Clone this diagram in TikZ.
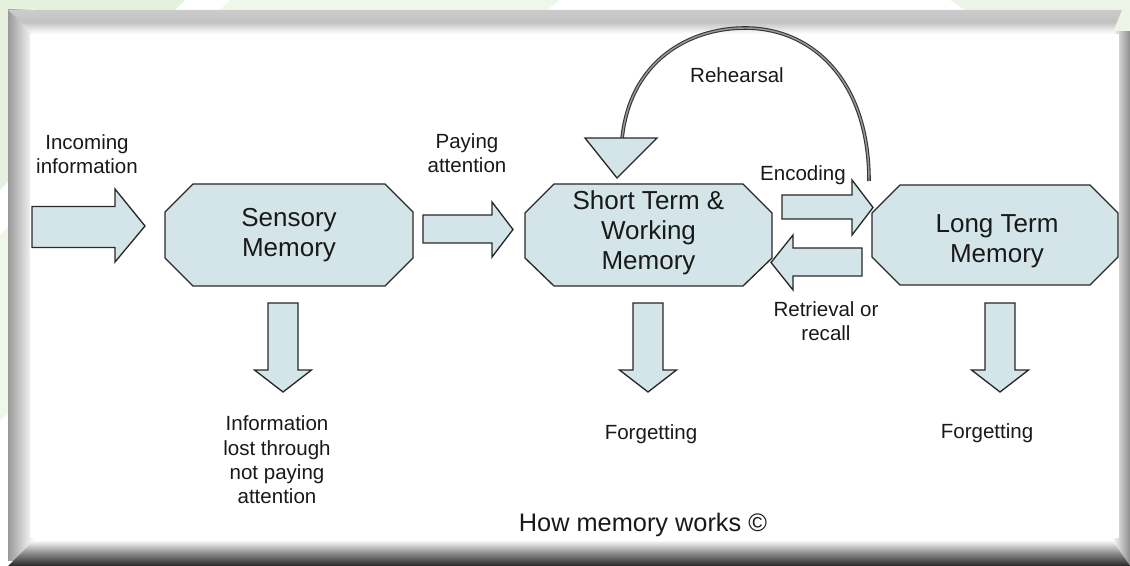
\documentclass[tikz,border=0pt]{standalone}
\usepackage{fontspec}
\setmainfont{Liberation Sans}
\definecolor{boxfill}{RGB}{212,229,233}
\definecolor{lineC}{RGB}{40,40,40}
\definecolor{txt}{RGB}{25,25,25}
\definecolor{wm}{RGB}{229,241,222}
\begin{document}
\begin{tikzpicture}[x=0.75pt,y=-0.75pt,
  blk/.style={draw=lineC, line width=1pt, fill=boxfill, line join=miter},
  memtext/.style={align=center, font=\fontsize{19.5}{22.5}\selectfont, text=txt, inner sep=0pt},
  lbl/.style={align=center, font=\fontsize{15.4}{18.2}\selectfont, text=txt, inner sep=0pt},
]
\useasboundingbox (0,0) rectangle (1130,566);
% background with faint watermark
\fill[white] (0,0) rectangle (1130,566);
\fill[wm] (0,0) -- (185,0) -- (0,190) -- cycle;
\fill[wm!60] (230,0) -- (560,0) -- (0,420) -- (0,235) -- cycle;
\fill[wm!70] (950,0) -- (1130,0) -- (1130,120) -- cycle;
% panel frame
\shade[left color=black!40, right color=white] (8,10) rectangle (34,560);
\shade[left color=white, right color=black!45] (1112,32) rectangle (1130,566);
\shade[top color=black!20, bottom color=white, middle color=black!24] (8,10) -- (1122,10) -- (1112,34) -- (34,34) -- cycle;
\fill[white] (34,34) rectangle (1112,540);
\shade[top color=white, bottom color=black!85, middle color=black!45] (8,566) -- (34,540) -- (1112,540) -- (1130,566) -- cycle;
\fill[white] (30,34) rectangle (1119,538);

% memory boxes
\path[blk] (193,184) -- (385,184) -- (413,212) -- (413,258) -- (385,286) -- (193,286) -- (165,258) -- (165,212) -- cycle;
\node[memtext] (sensory) at (289,235) {Sensory\\Memory};
\path[blk] (554,184) -- (743,184) -- (772,213) -- (772,258) -- (743,286) -- (554,286) -- (525,258) -- (525,213) -- cycle;
\node[memtext] (stm) at (648.5,233) {Short Term \&\\Working\\Memory};
\path[blk] (900,185) -- (1090,185) -- (1118,213) -- (1118,257) -- (1090,285) -- (900,285) -- (872,257) -- (872,213) -- cycle;
\node[memtext] (ltm) at (997,241) {Long Term\\Memory};

% horizontal block arrows
\path[blk] (32,206.5) -- (115,206.5) -- (115,189) -- (145,226) -- (115,262) -- (115,247.5) -- (32,247.5) -- cycle;
\path[blk] (423,215) -- (492,215) -- (492,202) -- (513,229.5) -- (492,257) -- (492,243) -- (423,243) -- cycle;
\path[blk] (782,195) -- (852,195) -- (852,180) -- (873,207.5) -- (852,235) -- (852,219) -- (782,219) -- cycle;
\path[blk] (862,248) -- (793,248) -- (793,235) -- (771,262.5) -- (793,290) -- (793,276) -- (862,276) -- cycle;

% downward block arrows
\foreach \cx in {283,648,1000}{
  \path[blk] (\cx-15,303) -- (\cx+15,303) -- (\cx+15,370) -- (\cx+28.5,370) -- (\cx,392) -- (\cx-28.5,370) -- (\cx-15,370) -- cycle;
}

% rehearsal loop
\coordinate (rehA) at (869,181);
\coordinate (rehB) at (622,139);
\draw[draw=black!80, double=black!40, double distance=1.1pt, line width=0.8pt]
  (rehA) .. controls (869,80) and (812,28) .. (745,28) .. controls (690,28) and (630,60) .. (rehB);
\path[blk] (585,138) -- (657,138) -- (617,178) -- cycle;

% labels
\node[lbl] (incoming) at (87,154) {Incoming\\information};
\node[lbl] (paying) at (467,153.5) {Paying\\attention};
\node[lbl] (rehearsal) at (737,75) {Rehearsal};
\node[lbl] (encoding) at (803,175) {Encoding};
\node[lbl] (retrieval) at (826,321.5) {Retrieval or\\recall};
\node[lbl] (lost) at (277,460) {Information\\lost through\\not paying\\attention};
\node[lbl] (forget1) at (651,434) {Forgetting};
\node[lbl] (forget2) at (987,433) {Forgetting};
\node[lbl, font=\fontsize{19}{22}\selectfont] (caption) at (643,525) {How memory works ©};
\end{tikzpicture}
\end{document}
